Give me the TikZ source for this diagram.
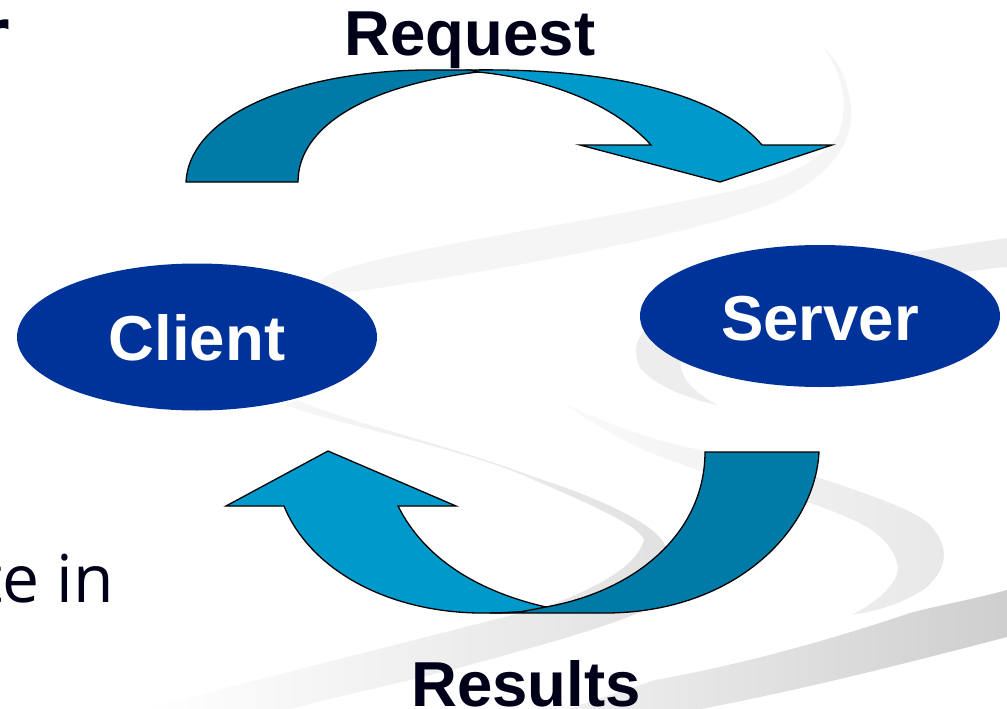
\documentclass[tikz,border=0pt]{standalone}
\usepackage{fontspec}
\setmainfont{Liberation Sans}
\newfontfamily\bodyfont{Open Sans}
\newfontfamily\armfont{DejaVu Sans}
\usetikzlibrary{shapes.geometric}
\definecolor{arrowlight}{HTML}{0099CC}
\definecolor{arrowdark}{HTML}{007BA7}
\definecolor{ovalblue}{HTML}{003399}
\definecolor{inkdark}{HTML}{000018}
\tikzset{
  x=1pt,y=-1pt,
  band/.style={draw=none},
  arrowpart/.style={draw=black,line width=1.3pt,line join=miter,miter limit=10},
  oval/.style={ellipse,fill=ovalblue,draw=none,inner sep=0pt,text=white,text depth=0pt,font=\fontsize{63.5}{63.5}\selectfont\bfseries},
  caption/.style={inner sep=0pt,text=inkdark,font=\fontsize{63.5}{63.5}\selectfont\bfseries},
  strayr/.style={inner sep=0pt,text=inkdark,anchor=base west,font=\armfont\bfseries\fontsize{62}{62}\selectfont},
  straytail/.style={inner sep=0pt,text=inkdark,anchor=base east,font=\bodyfont\fontsize{66}{66}\selectfont}
}
\begin{document}
\begin{tikzpicture}
\path[use as bounding box,fill=white] (0,0) rectangle (1007,709);
\clip (0,0) rectangle (1007,709);
% background swooshes
\path[band,fill=black!4] (823,47) .. controls (842,72) and (850,105) .. (838,135)
  .. controls (820,165) and (770,185) .. (703,197)
  .. controls (600,220) and (420,245) .. (340,270)
  .. controls (325,276) and (315,282) .. (300,300)
  .. controls (320,296) and (335,294) .. (350,292)
  .. controls (440,280) and (680,240) .. (773,203)
  .. controls (830,178) and (858,140) .. (850,100)
  .. controls (847,80) and (838,60) .. (823,47) -- cycle;
\path[band,fill=black!7] (1007,238) -- (900,254) -- (900,284) .. controls (930,278) and (970,270) .. (1007,267) -- cycle;
\path[band,fill=black!7] (660,320) .. controls (640,330) and (630,345) .. (640,368)
  .. controls (655,385) and (685,398) .. (717,405)
  .. controls (700,395) and (685,385) .. (681,368) .. controls (678,355) and (690,350) .. (700,345) -- cycle;
\path[band,left color=black!2,right color=black!9,shading angle=90] (563,403)
  .. controls (610,425) and (650,440) .. (701,450)
  .. controls (750,460) and (790,465) .. (817,477)
  .. controls (870,495) and (915,510) .. (930,525)
  .. controls (948,545) and (950,565) .. (927,587)
  .. controls (905,603) and (880,610) .. (852,615)
  .. controls (880,600) and (895,585) .. (898,570)
  .. controls (897,550) and (880,530) .. (846,517)
  .. controls (800,495) and (720,480) .. (678,463)
  .. controls (640,450) and (610,435) .. (563,403) -- cycle;
\path[band,left color=white,right color=black!12] (143,709) -- (493,620) -- (545,607)
  .. controls (590,590) and (635,570) .. (644,540)
  .. controls (640,525) and (580,500) .. (534,480)
  .. controls (470,450) and (340,425) .. (285,405) -- (297,400)
  .. controls (340,420) and (450,445) .. (534,477)
  .. controls (590,495) and (650,520) .. (664,543)
  .. controls (680,580) and (660,605) .. (638,613)
  .. controls (610,625) and (560,640) .. (516,652)
  .. controls (420,680) and (340,695) .. (290,709) -- cycle;
\path[band,left color=black!6,right color=black!19] (1007,590)
  .. controls (970,600) and (940,605) .. (910,613)
  .. controls (830,640) and (740,665) .. (655,680) -- (568,709) -- (701,709)
  .. controls (800,690) and (900,665) .. (1007,637) -- cycle;
% text cut off by the frame
\node[strayr] (strayr) at (-22,55) {r};
\node[straytail] (strayte) at (114,602) {te in};
% top arrow
\path[arrowpart,fill=arrowlight] (470,70)
  .. controls (600,68) and (715,90) .. (762,145) -- (832,145) -- (720,182) -- (580,145) -- (651,145)
  .. controls (610,100) and (540,78) .. (478,72) -- cycle;
\path[arrowpart,fill=arrowdark] (186,182)
  .. controls (190,110) and (310,68) .. (440,70) -- (470,70) -- (478,72)
  .. controls (370,85) and (298,125) .. (298,182) -- cycle;
% bottom arrow
\path[arrowpart,fill=arrowlight] (226,506) -- (328,451) -- (456,506) -- (398,506)
  .. controls (425,560) and (480,592) .. (546,607)
  .. controls (530,612) and (510,613) .. (490,613)
  .. controls (390,615) and (310,570) .. (284,506) -- cycle;
\path[arrowpart,fill=arrowdark] (705,452) -- (819,452)
  .. controls (815,530) and (735,613) .. (605,613) -- (490,613) -- (520,612) -- (546,607)
  .. controls (640,590) and (705,530) .. (705,452) -- cycle;
% ovals
\node[oval,minimum width=360pt,minimum height=147pt,text height=47pt] (client) at (197,337) {Client};
\node[oval,minimum width=360pt,minimum height=142pt,text height=48pt] (server) at (820,316) {Server};
% captions
\node[caption] (request) at (470,40) {Request};
\node[caption] (results) at (526,684) {Results};
\end{tikzpicture}
\end{document}
